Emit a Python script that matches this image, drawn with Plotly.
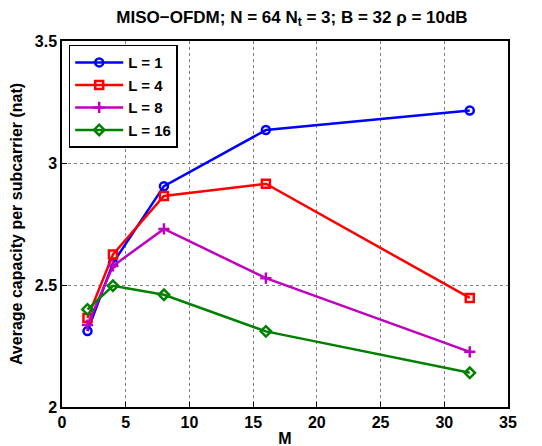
import plotly.graph_objects as go

M = [2, 4, 8, 16, 32]
L1 = [2.311, 2.59, 2.905, 3.135, 3.215]
L4 = [2.365, 2.625, 2.865, 2.915, 2.447]
L8 = [2.336, 2.578, 2.73, 2.528, 2.226]
L16 = [2.40, 2.497, 2.46, 2.31, 2.14]

series = [
    ("L = 1", L1, "#0000ff", "circle-open"),
    ("L = 4", L4, "#ff0000", "square-open"),
    ("L = 8", L8, "#bf00bf", "cross-thin-open"),
    ("L = 16", L16, "#008000", "diamond-open"),
]

fig = go.Figure()
for name, ys, col, sym in series:
    fig.add_trace(go.Scatter(
        x=M, y=ys, name=name, mode="lines+markers",
        line=dict(color=col, width=2.5),
        marker=dict(symbol=sym, size=8, color=col, line=dict(color=col, width=2.5)),
    ))

font = "Liberation Sans, Arial, sans-serif"
axis_common = dict(
    showline=True, linecolor="black", linewidth=1.5, mirror=True,
    ticks="inside", ticklen=5, tickcolor="black", automargin=False,
    showgrid=True, gridcolor="#808080", griddash="dot", gridwidth=1,
    zeroline=False,
    tickfont=dict(family=font, size=16, color="black", weight="bold"),
)
fig.update_xaxes(range=[0, 35], dtick=5, title=dict(text="<b>M</b>", standoff=3,
                 font=dict(family=font, size=16, color="black")), **axis_common)
fig.update_yaxes(range=[2, 3.5], tickvals=[2, 2.5, 3, 3.5], ticktext=["2", "2.5", "3", "3.5"],
                 title=dict(text="<b>Average capacity per subcarrier (nat)</b>", standoff=9,
                 font=dict(family=font, size=16, color="black")), **axis_common)

fig.update_layout(
    width=542, height=446,
    margin=dict(l=54, r=42, t=33, b=47, autoexpand=False),
    paper_bgcolor="white", plot_bgcolor="white",
    title=dict(text="<b>MISO\u2212OFDM; N = 64 N<sub>t</sub> = 3; B = 32 \u03c1 = 10dB</b>",
               x=0.524, xanchor="center", y=0.98, yanchor="middle",
               font=dict(family=font, size=17, color="black")),
    legend=dict(x=0.015, y=0.99, xanchor="left", yanchor="top",
                bgcolor="white", bordercolor="black", borderwidth=1.5,
                font=dict(family=font, size=15, color="black", weight="bold"),
                itemwidth=48, tracegroupgap=0),
    showlegend=True,
)

fig.write_html("out.html")
